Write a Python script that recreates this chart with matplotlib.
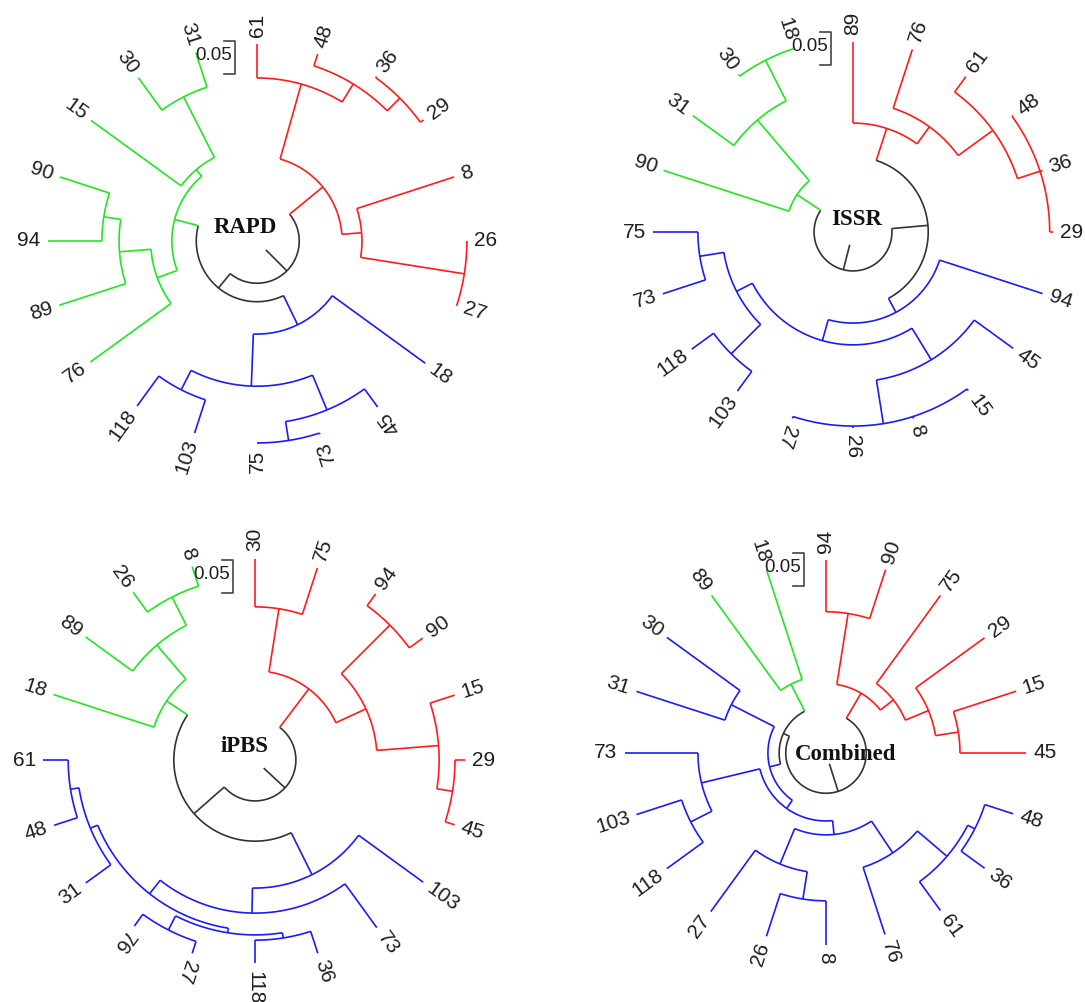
import numpy as np
import matplotlib.pyplot as plt

# internal node: (height, [children]); leaf: (label, tip height)
# heights are distances from the centre, same units as the 0.05 scale bar
rapd_tree = (0.064, [
    (0.129, [
        (0.247, [("61", 0.298),
                 (0.279, [("48", 0.298),
                          (0.306, [("36", 0.308), ("29", 0.312)])])]),
        (0.159, [("8", 0.314),
                 (0.318, [("26", 0.318), ("27", 0.318)])]),
    ]),
    (0.092, [
        (0.141, [("18", 0.315),
                 (0.220, [(0.277, [("45", 0.311),
                                   (0.306, [("73", 0.308), ("75", 0.306)])]),
                          (0.253, [("103", 0.306), ("118", 0.309)])])]),
        (0.129, [(0.161, [("76", 0.312),
                          (0.209, [("89", 0.315),
                                   (0.235, [("94", 0.317), ("90", 0.314)])])]),
                 (0.142, [("15", 0.311),
                          (0.245, [("30", 0.306), ("31", 0.300)])])]),
    ]),
])

issr_tree = (0.059, [
    (0.114, [
        (0.165, [("89", 0.288),
                 (0.197, [("76", 0.291),
                          (0.262, [("61", 0.291),
                                   (0.298, [("48", 0.300), ("36", 0.302), ("29", 0.303)])])])]),
        (0.138, [("94", 0.302),
                 (0.171, [(0.227, [("45", 0.300),
                                   (0.294, [("15", 0.297), ("8", 0.297), ("26", 0.297), ("27", 0.297)])]),
                          (0.198, [(0.261, [("103", 0.298), ("118", 0.302)]),
                                   (0.235, [("73", 0.303), ("75", 0.303)])])])]),
    ]),
    (0.102, [("90", 0.302),
             (0.223, [("31", 0.300),
                      (0.292, [("30", 0.295), ("18", 0.294)])])]),
])

ipbs_tree = (0.062, [
    (0.135, [
        (0.232, [("30", 0.305), ("75", 0.306)]),
        (0.185, [(0.289, [("94", 0.311), ("90", 0.314)]),
                 (0.279, [("15", 0.318),
                          (0.303, [("29", 0.318), ("45", 0.318)])])]),
    ]),
    (0.123, [
        (0.194, [("103", 0.315),
                 (0.232, [("73", 0.314),
                          (0.258, [(0.265, [(0.273, [("36", 0.308), ("118", 0.308)]),
                                            (0.289, [("27", 0.308), ("76", 0.311)])]),
                                   (0.270, [("31", 0.317),
                                            (0.283, [("48", 0.320), ("61", 0.321)])])])])]),
        (0.161, [("18", 0.321),
                 (0.229, [("89", 0.317),
                          (0.277, [("26", 0.314), ("8", 0.308)])])]),
    ]),
])

combined_tree = (0.061, [
    (0.105, [
        (0.214, [("94", 0.292), ("90", 0.292)]),
        (0.130, [("75", 0.295),
                 (0.168, [("29", 0.297),
                          (0.203, [("15", 0.303), ("45", 0.303)])])]),
    ]),
    (0.071, [
        (0.088, [
            (0.103, [
                (0.124, [(0.182, [(0.241, [(0.253, [("48", 0.298), ("36", 0.297)]),
                                           ("61", 0.295)]),
                                  ("76", 0.289)]),
                         (0.182, [(0.224, [("8", 0.291), ("26", 0.292)]),
                                  ("27", 0.297)])]),
                (0.194, [(0.230, [("118", 0.298), ("103", 0.302)]),
                         ("73", 0.305)]),
            ]),
            (0.161, [("31", 0.302), ("30", 0.298)]),
        ]),
        (0.117, [("89", 0.295), ("18", 0.292)]),
    ]),
])

red_leaves = {
    "RAPD": ["61", "48", "36", "29", "8", "26", "27"],
    "ISSR": ["89", "76", "61", "48", "36", "29"],
    "iPBS": ["30", "75", "94", "90", "15", "29", "45"],
    "Combined": ["94", "90", "75", "29", "15", "45"],
}
green_leaves = {
    "RAPD": ["76", "89", "94", "90", "15", "30", "31"],
    "ISSR": ["90", "31", "30", "18"],
    "iPBS": ["18", "89", "26", "8"],
    "Combined": ["89", "18"],
}
# every other leaf is in the blue cluster

root_inner = {"RAPD": 0.019, "ISSR": 0.020, "iPBS": 0.018, "Combined": 0.017}
# labels below this angle (deg) are turned round to read the other way
flip_below = {"RAPD": -45, "ISSR": -117, "iPBS": -135, "Combined": -99}

RED, GREEN, BLUE, DARK = "#ff1c1c", "#22e622", "#1c1cf5", "#333333"

panels = [
    ("RAPD", rapd_tree, (257, 241), (-0.017, 0.021)),
    ("ISSR", issr_tree, (853, 232), (0.006, 0.019)),
    ("iPBS", ipbs_tree, (255, 760), (-0.016, 0.021)),
    ("Combined", combined_tree, (826, 753), (0.030, -0.002)),
]

W, H = 1085, 1002
PX_PER_UNIT = 660.0   # 0.05 scale bar is ~33 px long
HALF = 270

fig = plt.figure(figsize=(W / 100, H / 100), dpi=100)


def is_leaf(node):
    return isinstance(node[0], str)


def leaves_of(node):
    if is_leaf(node):
        return [node[0]]
    out = []
    for c in node[1]:
        out += leaves_of(c)
    return out


def layout(node, angles):
    """returns angle of node (deg)"""
    if is_leaf(node):
        return angles[node[0]]
    a = [layout(c, angles) for c in node[1]]
    return 0.5 * (a[0] + a[-1])


def colour_of(node, name):
    labs = set(leaves_of(node))
    if labs <= set(red_leaves[name]):
        return RED
    if labs <= set(green_leaves[name]):
        return GREEN
    if labs & (set(red_leaves[name]) | set(green_leaves[name])):
        return DARK
    return BLUE


def arc(ax, r, a0, a1, col):
    t = np.radians(np.linspace(a0, a1, max(int(abs(a1 - a0)) * 2, 4)))
    ax.plot(r * np.cos(t), r * np.sin(t), color=col, lw=1.2, solid_capstyle="butt")


def radial(ax, r0, r1, a, col):
    t = np.radians(a)
    ax.plot([r0 * np.cos(t), r1 * np.cos(t)], [r0 * np.sin(t), r1 * np.sin(t)],
            color=col, lw=1.2, solid_capstyle="butt")


def draw(ax, node, angles, name):
    if is_leaf(node):
        return
    h = node[0]
    ca = [layout(c, angles) for c in node[1]]
    arc(ax, h, ca[0], ca[-1], colour_of(node, name))
    for c, a in zip(node[1], ca):
        radial(ax, h, c[1] if is_leaf(c) else c[0], a, colour_of(c, name))
        draw(ax, c, angles, name)


for name, tree, (cx, cy), title_xy in panels:
    ax = fig.add_axes([(cx - HALF) / W, 1 - (cy + HALF) / H, 2 * HALF / W, 2 * HALF / H])
    lim = HALF / PX_PER_UNIT
    ax.set_xlim(-lim, lim)
    ax.set_ylim(-lim, lim)
    ax.set_aspect("equal")
    ax.axis("off")

    labels = leaves_of(tree)
    n = len(labels)
    angles = {lab: 90 - 360.0 / n * i for i, lab in enumerate(labels)}

    draw(ax, tree, angles, name)
    ra = layout(tree, angles)
    radial(ax, root_inner[name], tree[0], ra, DARK)

    # tip labels
    def tips(node):
        if is_leaf(node):
            yield node
        else:
            for c in node[1]:
                yield from tips(c)

    for lab, tip in tips(tree):
        a = angles[lab]
        r = tip + 0.011
        t = np.radians(a)
        if a < flip_below[name]:
            rot, ha = a + 180, "right"
        else:
            rot, ha = a, "left"
        ax.text(r * np.cos(t), r * np.sin(t), lab, rotation=rot, rotation_mode="anchor",
                ha=ha, va="center", fontsize=15, color="#1e1e1e",
                family=["Liberation Sans", "DejaVu Sans"], clip_on=False)

    # scale bar
    bx, by0 = -0.0335, 0.253
    ax.plot([bx - 0.016, bx, bx, bx - 0.016], [by0 + 0.05, by0 + 0.05, by0, by0],
            color="#444444", lw=1.2)
    ax.text(bx - 0.005, by0 + 0.028, "0.05", ha="right", va="center", fontsize=13.5,
            color="#1e1e1e", family=["Liberation Sans", "DejaVu Sans"])

    ax.text(title_xy[0], title_xy[1], name, ha="center", va="center", fontsize=16.5,
            fontweight="bold", family=["Liberation Serif", "DejaVu Serif"], color="#111111")

fig.savefig("out.png", dpi=100)
